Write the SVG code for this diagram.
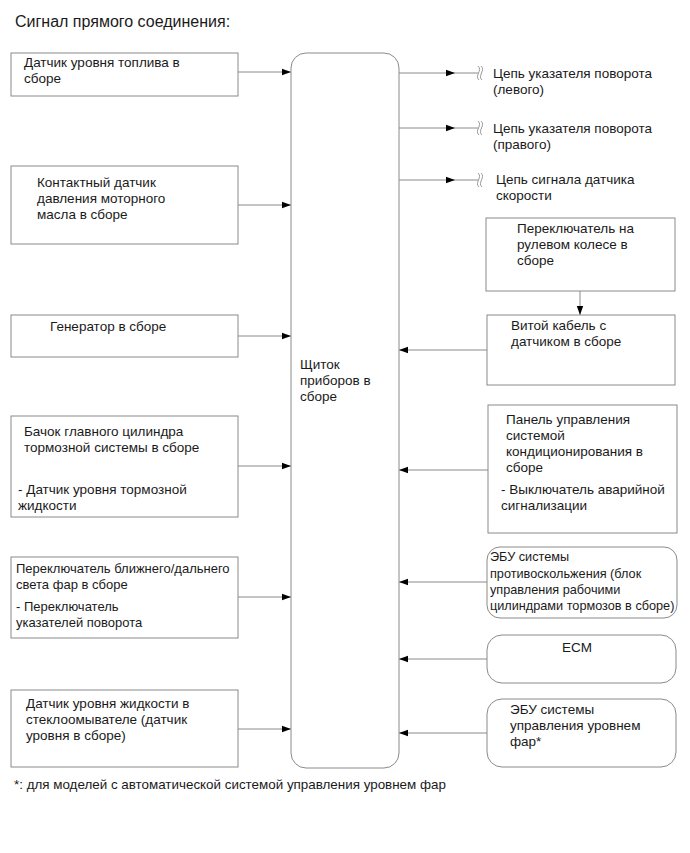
<svg xmlns="http://www.w3.org/2000/svg" width="690" height="853" viewBox="0 0 690 853">
<style>
text{font-family:"Liberation Sans",Arial,sans-serif;font-size:13.5px;fill:#1a1a1a}
.box{fill:#fff;stroke:#8a8a8a;stroke-width:1}
.ln{stroke:#8a8a8a;stroke-width:1;fill:none}
.sq{stroke:#9a9a9a;stroke-width:1;fill:none}
.sm{font-size:12.7px}
.md{font-size:13px}
</style>
<defs>
<marker id="ah" markerUnits="userSpaceOnUse" markerWidth="10" markerHeight="8" refX="9" refY="4" orient="auto">
<path d="M0,0.8 L9,4 L0,7.2 Z" fill="#000"/>
</marker>
</defs>
<rect width="690" height="853" fill="#fff"/>
<text x="15" y="27" style="font-size:16px">Сигнал прямого соединения:</text>

<g id="connectors">
<line class="ln" x1="238" y1="72" x2="291" y2="72" marker-end="url(#ah)"/>
<line class="ln" x1="238" y1="205" x2="291" y2="205" marker-end="url(#ah)"/>
<line class="ln" x1="238" y1="336" x2="291" y2="336" marker-end="url(#ah)"/>
<line class="ln" x1="238" y1="466" x2="291" y2="466" marker-end="url(#ah)"/>
<line class="ln" x1="238" y1="597" x2="291" y2="597" marker-end="url(#ah)"/>
<line class="ln" x1="238" y1="729" x2="291" y2="729" marker-end="url(#ah)"/>
<line class="ln" x1="399" y1="73" x2="455" y2="73" marker-end="url(#ah)"/>
<line class="ln" x1="455" y1="73" x2="478" y2="73"/>
<line class="ln" x1="399" y1="128" x2="455" y2="128" marker-end="url(#ah)"/>
<line class="ln" x1="455" y1="128" x2="478" y2="128"/>
<line class="ln" x1="399" y1="180" x2="455" y2="180" marker-end="url(#ah)"/>
<line class="ln" x1="455" y1="180" x2="478" y2="180"/>
<path class="sq" d="M478,66 C483,70 474,76 479,80 M481,66 C486,70 477,76 482,80"/>
<path class="sq" d="M478,121 C483,125 474,131 479,135 M481,121 C486,125 477,131 482,135"/>
<path class="sq" d="M478,173 C483,177 474,183 479,187 M481,173 C486,177 477,183 482,187"/>
<line class="ln" x1="580" y1="291" x2="580" y2="315" marker-end="url(#ah)"/>
<line class="ln" x1="487" y1="350" x2="399" y2="350" marker-end="url(#ah)"/>
<line class="ln" x1="488" y1="470" x2="399" y2="470" marker-end="url(#ah)"/>
<line class="ln" x1="487" y1="582" x2="399" y2="582" marker-end="url(#ah)"/>
<line class="ln" x1="487" y1="659" x2="399" y2="659" marker-end="url(#ah)"/>
<line class="ln" x1="487" y1="733" x2="399" y2="733" marker-end="url(#ah)"/>
</g>

<g id="center">
<rect class="box" x="291" y="53" width="108" height="715" rx="15" ry="15"/>
<text x="300" y="369">Щиток</text>
<text x="300" y="385">приборов в</text>
<text x="300" y="401">сборе</text>
</g>

<g id="fuel">
<rect class="box" x="11" y="53" width="227" height="43"/>
<text x="24" y="67">Датчик уровня топлива в</text>
<text x="24" y="83">сборе</text>
</g>

<g id="oil">
<rect class="box" x="11" y="166" width="227" height="78"/>
<text x="37" y="187">Контактный датчик</text>
<text x="37" y="203">давления моторного</text>
<text x="37" y="219">масла в сборе</text>
</g>

<g id="gen">
<rect class="box" x="11" y="315" width="227" height="42"/>
<text x="50" y="331">Генератор в сборе</text>
</g>

<g id="brake">
<rect class="box" x="11" y="416" width="227" height="101"/>
<text x="24" y="436">Бачок главного цилиндра</text>
<text x="24" y="452">тормозной системы в сборе</text>
<text x="18" y="494">- Датчик уровня тормозной</text>
<text x="18" y="510">жидкости</text>
</g>

<g id="headlight">
<rect class="box" x="11" y="557" width="227" height="81"/>
<text class="md" x="16" y="573">Переключатель ближнего/дальнего</text>
<text class="md" x="16" y="589">света фар в сборе</text>
<text class="md" x="16" y="611">- Переключатель</text>
<text class="md" x="16" y="627">указателей поворота</text>
</g>

<g id="washer">
<rect class="box" x="11" y="690" width="227" height="77"/>
<text x="26" y="708">Датчик уровня жидкости в</text>
<text x="26" y="724">стеклоомывателе (датчик</text>
<text x="26" y="740">уровня в сборе)</text>
</g>

<g id="turn-left">
<text x="493" y="78">Цепь указателя поворота</text>
<text x="493" y="94">(левого)</text>
</g>
<g id="turn-right">
<text x="493" y="133">Цепь указателя поворота</text>
<text x="493" y="149">(правого)</text>
</g>
<g id="speed">
<text x="496" y="184">Цепь сигнала датчика</text>
<text x="496" y="200">скорости</text>
</g>

<g id="steering-switch">
<rect class="box" x="486" y="218" width="189" height="73"/>
<text x="517" y="233">Переключатель на</text>
<text x="517" y="249">рулевом колесе в</text>
<text x="517" y="265">сборе</text>
</g>

<g id="spiral-cable">
<rect class="box" x="487" y="315" width="188" height="70"/>
<text x="511" y="330">Витой кабель с</text>
<text x="511" y="346">датчиком в сборе</text>
</g>

<g id="ac-panel">
<rect class="box" x="488" y="405" width="189" height="128"/>
<text x="506" y="424">Панель управления</text>
<text x="506" y="440">системой</text>
<text x="506" y="456">кондиционирования в</text>
<text x="506" y="472">сборе</text>
<text x="501" y="494">- Выключатель аварийной</text>
<text x="501" y="510">сигнализации</text>
</g>

<g id="skid-ecu">
<rect class="box" x="487" y="547" width="190" height="71" rx="13" ry="13"/>
<text class="sm" x="490" y="561">ЭБУ системы</text>
<text class="sm" x="490" y="578">противоскольжения (блок</text>
<text class="sm" x="490" y="594">управления рабочими</text>
<text class="sm" x="490" y="610">цилиндрами тормозов в сборе)</text>
</g>

<g id="ecm">
<rect class="box" x="487" y="635" width="189" height="48" rx="15" ry="15"/>
<text x="577" y="652" text-anchor="middle">ECM</text>
</g>

<g id="leveling-ecu">
<rect class="box" x="487" y="699" width="189" height="68" rx="15" ry="15"/>
<text x="510" y="714">ЭБУ системы</text>
<text x="510" y="730">управления уровнем</text>
<text x="510" y="746">фар*</text>
</g>

<text x="14" y="789" style="font-size:13.4px">*: для моделей с автоматической системой управления уровнем фар</text>
</svg>
